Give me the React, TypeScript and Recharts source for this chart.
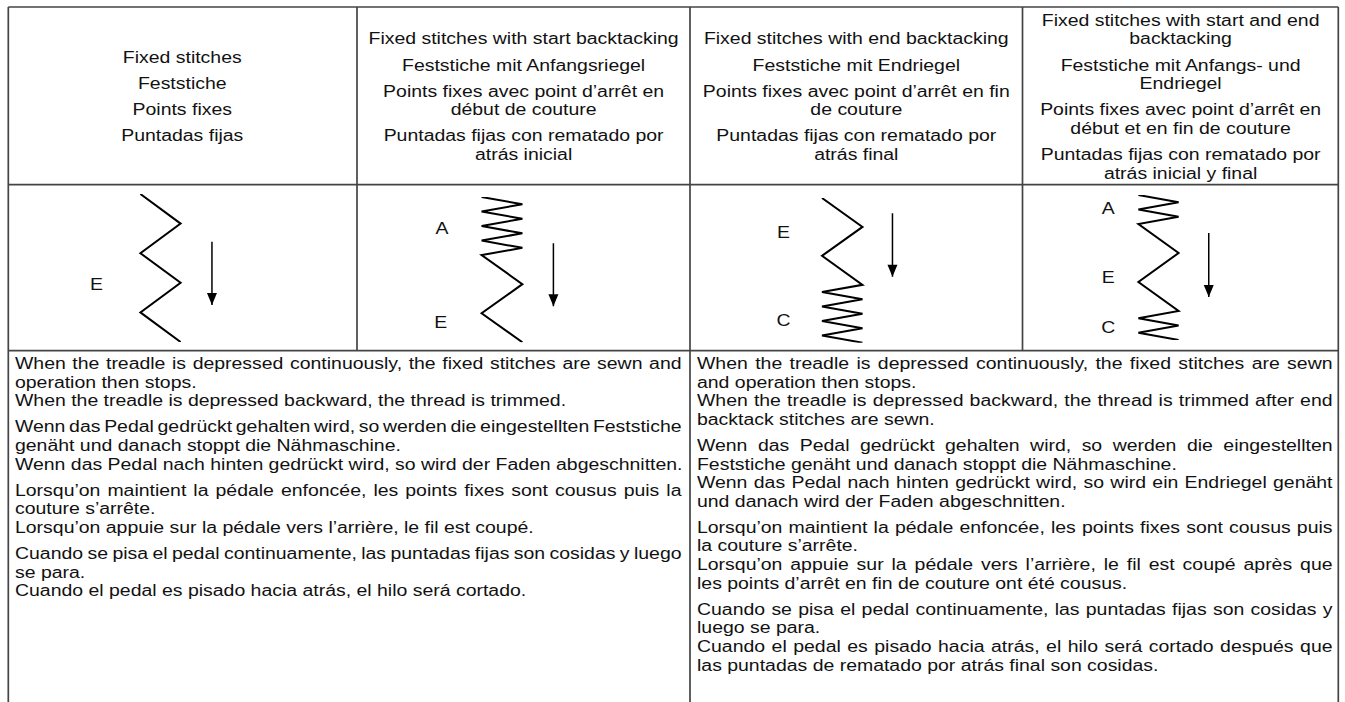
import React from "react";
import { ComposedChart, Line, Scatter, XAxis, YAxis } from "recharts";

// Header texts, one array of paragraphs (each a list of lines) per column
const header1 = [["Fixed stitches"], ["Feststiche"], ["Points fixes"], ["Puntadas fijas"]];
const header2 = [
  ["Fixed stitches with start backtacking"],
  ["Feststiche mit Anfangsriegel"],
  ["Points fixes avec point d’arrêt en", "début de couture"],
  ["Puntadas fijas con rematado por", "atrás inicial"],
];
const header3 = [
  ["Fixed stitches with end backtacking"],
  ["Feststiche mit Endriegel"],
  ["Points fixes avec point d’arrêt en fin", "de couture"],
  ["Puntadas fijas con rematado por", "atrás final"],
];
const header4 = [
  ["Fixed stitches with start and end", "backtacking"],
  ["Feststiche mit Anfangs- und", "Endriegel"],
  ["Points fixes avec point d’arrêt en", "début et en fin de couture"],
  ["Puntadas fijas con rematado por", "atrás inicial y final"],
];

// Stitch diagrams: x = side of the seam (0 left, 1 right), y = position along the seam (0 top .. 20 bottom)
const stitches1 = [
  { x: 0, y: 0 }, { x: 1, y: 4 }, { x: 0, y: 8 }, { x: 1, y: 12 }, { x: 0, y: 16 }, { x: 1, y: 20 },
];
const stitches2 = [
  { x: 0, y: 0 }, { x: 1, y: 1 }, { x: 0, y: 2 }, { x: 1, y: 3 }, { x: 0, y: 4 }, { x: 1, y: 5 },
  { x: 0, y: 6 }, { x: 1, y: 7 }, { x: 0, y: 8 }, { x: 1, y: 12 }, { x: 0, y: 16 }, { x: 1, y: 20 },
];
const stitches3 = [
  { x: 0, y: 0 }, { x: 1, y: 4 }, { x: 0, y: 8 }, { x: 1, y: 12 }, { x: 0, y: 13 }, { x: 1, y: 14 },
  { x: 0, y: 15 }, { x: 1, y: 16 }, { x: 0, y: 17 }, { x: 1, y: 18 }, { x: 0, y: 19 }, { x: 1, y: 20 },
];
const stitches4 = [
  { x: 0, y: 0 }, { x: 1, y: 1 }, { x: 0, y: 2 }, { x: 1, y: 3 }, { x: 0, y: 4 }, { x: 1, y: 8 },
  { x: 0, y: 12 }, { x: 1, y: 16 }, { x: 0, y: 17 }, { x: 1, y: 18 }, { x: 0, y: 19 }, { x: 1, y: 20 },
];

// sewing direction arrows
const arrow1 = [{ x: 1.78, y: 6.45 }, { x: 1.78, y: 15.0 }];
const arrow2 = [{ x: 1.76, y: 6.37 }, { x: 1.76, y: 15.04 }];
const arrow3 = [{ x: 1.74, y: 2.11 }, { x: 1.74, y: 10.88 }];
const arrow4 = [{ x: 1.75, y: 5.24 }, { x: 1.75, y: 14.07 }];

// section letters
const labels1 = [{ x: -1.09, y: 12.3, label: "E" }];
const labels2 = [{ x: -0.97, y: 4.3, label: "A" }, { x: -1.0, y: 17.25, label: "E" }];
const labels3 = [{ x: -0.95, y: 4.84, label: "E" }, { x: -0.95, y: 17.0, label: "C" }];
const labels4 = [
  { x: -0.75, y: 1.93, label: "A" },
  { x: -0.75, y: 11.45, label: "E" },
  { x: -0.75, y: 18.34, label: "C" },
];

// Description texts
const bodyLeft = [
  [
    "When the treadle is depressed continuously, the fixed stitches are sewn and",
    "operation then stops.",
    "When the treadle is depressed backward, the thread is trimmed.",
  ],
  [
    "Wenn das Pedal gedrückt gehalten wird, so werden die eingestellten Feststiche",
    "genäht und danach stoppt die Nähmaschine.",
    "Wenn das Pedal nach hinten gedrückt wird, so wird der Faden abgeschnitten.",
  ],
  [
    "Lorsqu’on maintient la pédale enfoncée, les points fixes sont cousus puis la",
    "couture s’arrête.",
    "Lorsqu’on appuie sur la pédale vers l’arrière, le fil est coupé.",
  ],
  [
    "Cuando se pisa el pedal continuamente, las puntadas fijas son cosidas y luego",
    "se para.",
    "Cuando el pedal es pisado hacia atrás, el hilo será cortado.",
  ],
];
const bodyRight = [
  [
    "When the treadle is depressed continuously, the fixed stitches are sewn",
    "and operation then stops.",
    "When the treadle is depressed backward, the thread is trimmed after end",
    "backtack stitches are sewn.",
  ],
  [
    "Wenn das Pedal gedrückt gehalten wird, so werden die eingestellten",
    "Feststiche genäht und danach stoppt die Nähmaschine.",
    "Wenn das Pedal nach hinten gedrückt wird, so wird ein Endriegel genäht",
    "und danach wird der Faden abgeschnitten.",
  ],
  [
    "Lorsqu’on maintient la pédale enfoncée, les points fixes sont cousus puis",
    "la couture s’arrête.",
    "Lorsqu’on appuie sur la pédale vers l’arrière, le fil est coupé après que",
    "les points d’arrêt en fin de couture ont été cousus.",
  ],
  [
    "Cuando se pisa el pedal continuamente, las puntadas fijas son cosidas y",
    "luego se para.",
    "Cuando el pedal es pisado hacia atrás, el hilo será cortado después que",
    "las puntadas de rematado por atrás final son cosidas.",
  ],
];

const FONT = "'Liberation Sans', Arial, sans-serif";
const FS = 16;
const K = 1.215; // horizontal stretch of the type
const LH = 18.6;
const GAP = 7.5;
const INK = "#111";
const RULE = "#444";

let ctx: CanvasRenderingContext2D | null = null;
function textWidth(s: string) {
  if (!ctx) {
    ctx = document.createElement("canvas").getContext("2d");
    if (ctx) ctx.font = `${FS}px ${FONT}`;
  }
  return ctx ? ctx.measureText(s).width : s.length * 8;
}

function Header({ paras, x0, x1 }: { paras: string[][]; x0: number; x1: number }) {
  return (
    <div
      style={{
        position: "absolute",
        left: x0,
        top: 7,
        width: x1 - x0,
        height: 178,
        boxSizing: "border-box",
        paddingTop: 3,
        display: "flex",
        alignItems: "center",
        justifyContent: "center",
      }}
    >
      <div style={{ transform: `scaleX(${K})`, textAlign: "center" }}>
        {paras.map((p, i) => (
          <div key={i} style={{ marginTop: i ? GAP : 0 }}>
            {p.map((l, j) => (
              <div key={j} style={{ lineHeight: `${LH}px`, whiteSpace: "nowrap" }}>
                {l}
              </div>
            ))}
          </div>
        ))}
      </div>
    </div>
  );
}

function Body({ paras, left, top, width }: { paras: string[][]; left: number; top: number; width: number }) {
  const rows: React.ReactNode[] = [];
  let y = top;
  paras.forEach((p, i) => {
    if (i) y += GAP;
    p.forEach((l, j) => {
      const justify = !l.endsWith(".");
      const spaces = l.split(" ").length - 1;
      const ws = justify && spaces ? (width / K - textWidth(l)) / spaces : 0;
      rows.push(
        <div
          key={`${i}-${j}`}
          style={{
            position: "absolute",
            left,
            top: y,
            lineHeight: `${LH}px`,
            whiteSpace: "nowrap",
            wordSpacing: ws,
            transform: `scaleX(${K})`,
            transformOrigin: "0 0",
          }}
        >
          {l}
        </div>
      );
      y += LH;
    });
  });
  return <>{rows}</>;
}

const PAD = 6;

function Diagram({
  stitches,
  arrow,
  labels,
  zigLeft,
  unit,
  top,
  bottom,
}: {
  stitches: { x: number; y: number }[];
  arrow: { x: number; y: number }[];
  labels: { x: number; y: number; label: string }[];
  zigLeft: number;
  unit: number;
  top: number;
  bottom: number;
}) {
  const w = unit * 5;
  const h = bottom - top + PAD * 2;
  return (
    <div style={{ position: "absolute", left: zigLeft - unit * 2, top: top - PAD }}>
      <ComposedChart width={w} height={h} margin={{ top: PAD, bottom: PAD, left: 0, right: 0 }}>
        <XAxis type="number" dataKey="x" domain={[-2, 3]} allowDataOverflow hide />
        <YAxis type="number" dataKey="y" domain={[0, 20]} allowDataOverflow reversed hide />
        <Line
          data={stitches}
          dataKey="y"
          type="linear"
          stroke="#000"
          strokeWidth={2}
          strokeLinejoin="miter"
          dot={false}
          activeDot={false}
          isAnimationActive={false}
        />
        <Line
          data={arrow}
          dataKey="y"
          type="linear"
          stroke="#000"
          strokeWidth={1.5}
          activeDot={false}
          isAnimationActive={false}
          dot={(p: any) =>
            p.index === arrow.length - 1 ? (
              <polygon
                key={`h${p.index}`}
                points={`${p.cx - 5},${p.cy - 12} ${p.cx + 5},${p.cy - 12} ${p.cx},${p.cy}`}
                fill="#000"
              />
            ) : (
              <g key={`d${p.index}`} />
            )
          }
        />
        <Scatter
          data={labels}
          isAnimationActive={false}
          shape={(p: any) => (
            <text
              x={p.cx}
              y={p.cy}
              textAnchor="middle"
              dominantBaseline="central"
              fontFamily={FONT}
              fontSize={FS}
              fill={INK}
              transform={`translate(${p.cx} ${p.cy}) scale(${K} 1) translate(${-p.cx} ${-p.cy})`}
            >
              {p.payload.label}
            </text>
          )}
        />
      </ComposedChart>
    </div>
  );
}

export default function App() {
  const colX = [8.3, 357, 690, 1022.5, 1338.3];
  const rowY = [7, 184.7, 350.7];
  return (
    <div
      style={{
        position: "absolute",
        left: 0,
        top: 0,
        width: 1345,
        height: 702,
        overflow: "hidden",
        background: "#fff",
        fontFamily: FONT,
        fontSize: FS,
        color: INK,
      }}
    >
      <svg width={1345} height={702} style={{ position: "absolute", left: 0, top: 0 }}>
        {rowY.map((y) => (
          <line key={y} x1={colX[0]} x2={colX[4]} y1={y} y2={y} stroke={RULE} strokeWidth={1.7} />
        ))}
        <line x1={colX[0]} x2={colX[0]} y1={rowY[0]} y2={702} stroke={RULE} strokeWidth={1.7} />
        <line x1={colX[1]} x2={colX[1]} y1={rowY[0]} y2={rowY[2]} stroke={RULE} strokeWidth={1.7} />
        <line x1={colX[2]} x2={colX[2]} y1={rowY[0]} y2={702} stroke={RULE} strokeWidth={1.7} />
        <line x1={colX[3]} x2={colX[3]} y1={rowY[0]} y2={rowY[2]} stroke={RULE} strokeWidth={1.7} />
        <line x1={colX[4]} x2={colX[4]} y1={rowY[0]} y2={702} stroke={RULE} strokeWidth={1.7} />
      </svg>

      <Header paras={header1} x0={colX[0]} x1={colX[1]} />
      <Header paras={header2} x0={colX[1]} x1={colX[2]} />
      <Header paras={header3} x0={colX[2]} x1={colX[3]} />
      <Header paras={header4} x0={colX[3]} x1={colX[4]} />

      <Diagram stitches={stitches1} arrow={arrow1} labels={labels1} zigLeft={140.2} unit={40.2} top={194} bottom={342} />
      <Diagram stitches={stitches2} arrow={arrow2} labels={labels2} zigLeft={481.7} unit={40.8} top={196.7} bottom={342} />
      <Diagram stitches={stitches3} arrow={arrow3} labels={labels3} zigLeft={821.5} unit={40.5} top={198} bottom={342.7} />
      <Diagram stitches={stitches4} arrow={arrow4} labels={labels4} zigLeft={1138.3} unit={40.2} top={195} bottom={340} />

      <Body paras={bodyLeft} left={14.5} top={355} width={666.5} />
      <Body paras={bodyRight} left={697} top={355} width={635.5} />
    </div>
  );
}
